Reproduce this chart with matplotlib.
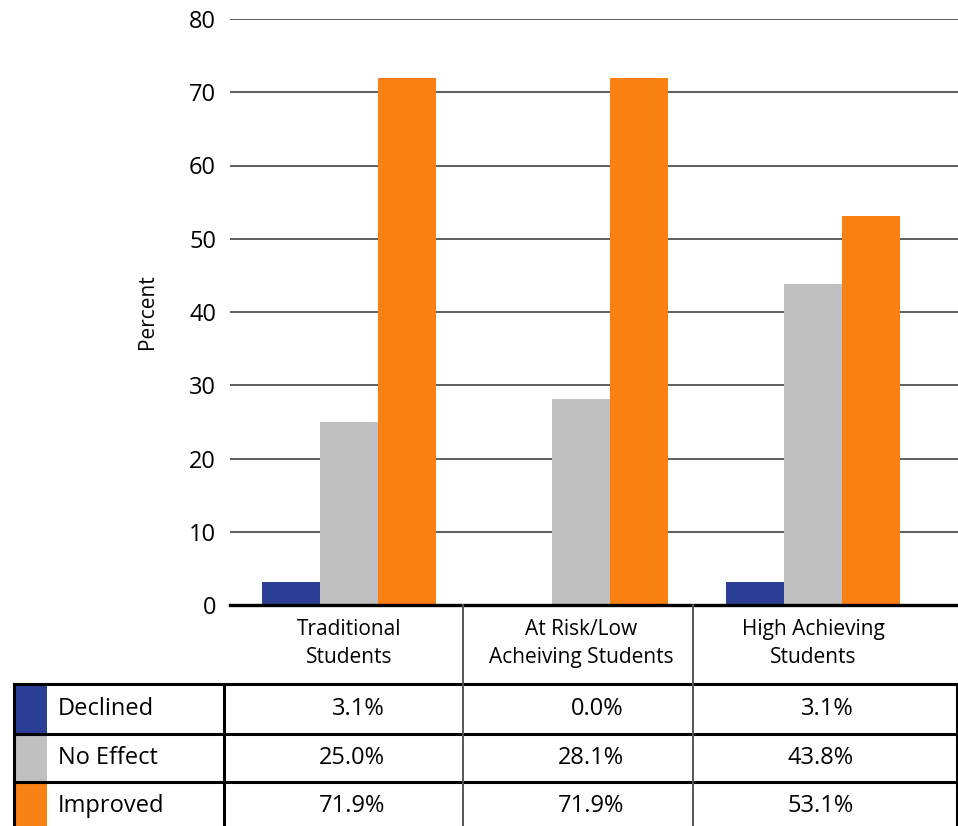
import matplotlib
matplotlib.use("Agg")
from matplotlib import pyplot as plt
from matplotlib.patches import Rectangle
import numpy as np

groups = ['Traditional\nStudents', 'At Risk/Low\nAcheiving Students', 'High Achieving\nStudents']
series = ['Declined', 'No Effect', 'Improved']
declined = [3.1, 0.0, 3.1]
no_effect = [25.0, 28.1, 43.8]
improved = [71.9, 71.9, 53.1]
colors = ['#2b3f96', '#c0c0c0', '#f98012']
yticks = [0, 10, 20, 30, 40, 50, 60, 70, 80]

W, H = 958, 826
fig = plt.figure(figsize=(W / 100, H / 100), dpi=100)
plt.rcParams['font.family'] = ['Open Sans', 'DejaVu Sans']

# main bar axes (pixel box -> figure fraction)
left, right, top, bottom = 230, 958, 19, 605
ax = fig.add_axes([left / W, 1 - bottom / H, (right - left) / W, (bottom - top) / H])

x = np.arange(len(groups))
w = 0.25
for i, vals in enumerate([declined, no_effect, improved]):
    ax.bar(x + (i - 1) * w, vals, width=w, color=colors[i], zorder=3, linewidth=0)

ax.set_ylim(0, 80)
ax.set_xlim(-0.513, 2.625)
ax.set_yticks(yticks)
ax.set_yticklabels([str(t) for t in yticks], fontsize=17)
for t in yticks[1:]:
    ax.axhline(t, color='#333333', linewidth=1.1, zorder=1)
ax.axhline(0, color='black', linewidth=2.4, zorder=4, clip_on=False)
ax.tick_params(axis='y', length=0, pad=10)
ax.set_xticks(x)
ax.set_xticklabels(groups, fontsize=15, linespacing=1.45)
ax.tick_params(axis='x', length=0, pad=10)
for s in ax.spines.values():
    s.set_visible(False)
ax.set_ylabel('Percent', fontsize=15, labelpad=22)

# data table under the chart, drawn in pixel coordinates
ov = fig.add_axes([0, 0, 1, 1], zorder=5)
ov.set_xlim(0, W)
ov.set_ylim(H, 0)
ov.axis('off')
ov.patch.set_alpha(0)

col_x = [14, 224, 463, 693, 957]
row_y = [684, 734, 782, 830]
sw_right = 47

for r, name in enumerate(series):
    y0, y1 = row_y[r], row_y[r + 1]
    ov.add_patch(Rectangle((col_x[0], y0), sw_right - col_x[0], y1 - y0, color=colors[r], lw=0))
    ov.text(58, (y0 + y1) / 2, name, fontsize=17, va='center', ha='left')
    vals = [declined, no_effect, improved][r]
    for c, v in enumerate(vals):
        ov.text(col_x[c + 1] + 161, (y0 + y1) / 2, f'{v:.1f}%', fontsize=17, va='center', ha='right')

for yy in row_y[:-1]:
    ov.plot([col_x[0], col_x[-1]], [yy, yy], color='black', lw=2.2)
for xx in [col_x[0], col_x[1], col_x[-1]]:
    ov.plot([xx, xx], [row_y[0], H], color='black', lw=2.2)
for xx in col_x[2:4]:
    ov.plot([xx, xx], [bottom, H], color='#555555', lw=1.4)

fig.savefig('out.png', dpi=100)
